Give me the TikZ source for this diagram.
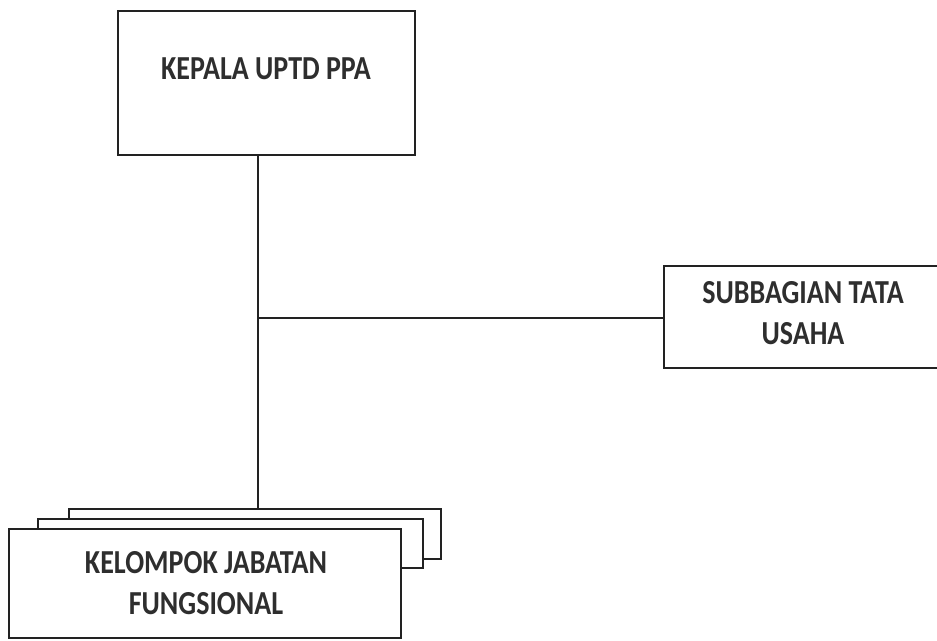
\documentclass[tikz,border=0pt]{standalone}
\usepackage{fontspec}
\setmainfont{Carlito}
\usepackage{graphicx}
\definecolor{ink}{HTML}{222222}
\definecolor{txt}{HTML}{2E2E2E}
\newcommand{\lbl}[1]{\scalebox{1}[1.2]{\begin{tabular}{@{}c@{}}#1\end{tabular}}}
\tikzset{
  orgbox/.style={draw=ink, line width=1.7pt, fill=white, rectangle, inner sep=0pt, anchor=north west},
  orgtext/.style={text=txt, font=\bfseries\fontsize{28}{34}\selectfont, inner sep=0pt, align=center},
  link/.style={draw=ink, line width=1.3pt}
}
\begin{document}
\begin{tikzpicture}[x=1pt,y=-1pt]
\clip (0,0) rectangle (937,640);
\fill[white] (0,0) rectangle (937,640);
% top box
\node[orgbox, minimum width=297pt, minimum height=144pt] (kepala) at (117,10) {};
\node[orgtext] (kepalat) at (266,71) {\lbl{KEPALA UPTD PPA}};
% right box
\node[orgbox, minimum width=300pt, minimum height=102pt] (subbag) at (663,265) {};
\node[orgtext] (subbagt) at (803,316) {\lbl{SUBBAGIAN TATA\\USAHA}};
% stacked boxes
\node[orgbox, minimum width=372pt, minimum height=50pt] (back) at (68,508) {};
\node[orgbox, minimum width=385pt, minimum height=49pt] (mid) at (37,518) {};
\node[orgbox, minimum width=392pt, minimum height=109pt] (front) at (8,528) {};
\node[orgtext] (frontt) at (206,586) {\lbl{KELOMPOK JABATAN\\FUNGSIONAL}};
% connectors
\coordinate (j) at (258,318);
\draw[link] (kepala.south -| j) -- (j) -- (back.north -| j);
\draw[link] (j) -- (subbag.west |- j);
\end{tikzpicture}
\end{document}
